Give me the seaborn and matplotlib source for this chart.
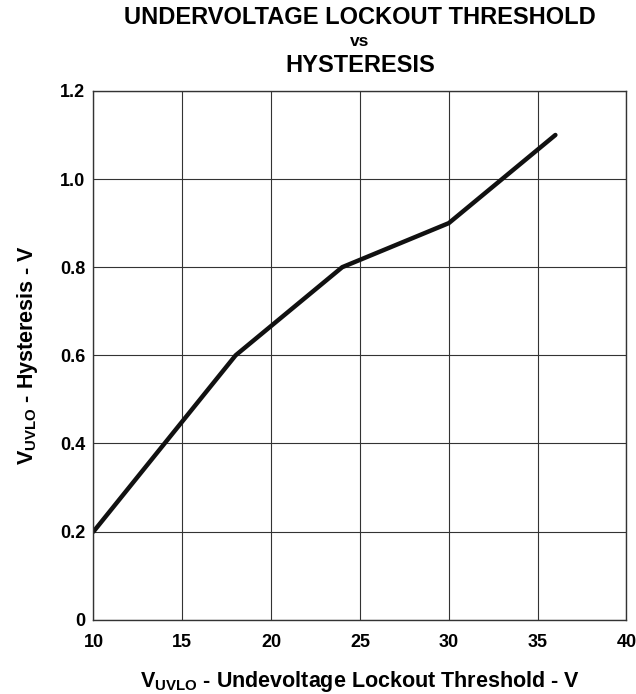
import matplotlib
matplotlib.use("Agg")
import matplotlib.pyplot as plt
import seaborn as sns
import pandas as pd

# данные
threshold = [10, 18, 24, 30, 36]
hysteresis = [0.2, 0.6, 0.8, 0.9, 1.1]
x_ticks = [10, 15, 20, 25, 30, 35, 40]
y_ticks = [0, 0.2, 0.4, 0.6, 0.8, 1.0, 1.2]
y_tick_labels = ['0', '0.2', '0.4', '0.6', '0.8', '1.0', '1.2']

sns.set_style("white")
plt.rcParams['font.family'] = ['Liberation Sans', 'DejaVu Sans']
plt.rcParams['font.weight'] = 'bold'
plt.rcParams['text.color'] = 'black'
plt.rcParams['axes.labelcolor'] = 'black'
plt.rcParams['xtick.color'] = 'black'
plt.rcParams['ytick.color'] = 'black'
plt.rcParams['mathtext.fontset'] = 'custom'
plt.rcParams['mathtext.rm'] = 'Liberation Sans:bold'
plt.rcParams['mathtext.it'] = 'Liberation Sans:bold'
plt.rcParams['mathtext.bf'] = 'Liberation Sans:bold'

df = pd.DataFrame({'threshold': threshold, 'hysteresis': hysteresis})

fig = plt.figure(figsize=(6.36, 6.94), dpi=100)
ax = fig.add_axes([0.147, 0.107, 0.838, 0.762])

sns.lineplot(data=df, x='threshold', y='hysteresis', color='#111111', linewidth=3.2, ax=ax)

ax.set_xlim(10, 40)
ax.set_ylim(0, 1.2)
ax.set_xticks(x_ticks)
ax.set_yticks(y_ticks)
ax.set_yticklabels(y_tick_labels)
ax.grid(True, color='#333333', linewidth=0.8)
for s in ax.spines.values():
    s.set_color('#333333')
    s.set_linewidth(1.0)
ax.tick_params(axis='x', length=0, labelsize=13, pad=10)
ax.tick_params(axis='y', length=0, labelsize=13, pad=6)
for lbl in ax.get_xticklabels() + ax.get_yticklabels():
    lbl.set_fontweight('bold')

ax.set_xlabel(r'V$_{\mathrm{UVLO}}$ - Undevoltage Lockout Threshold - V',
              fontsize=15.5, fontweight='bold', labelpad=13)
ax.set_ylabel(r'V$_{\mathrm{UVLO}}$ - Hysteresis - V',
              fontsize=15.5, fontweight='bold', labelpad=14)

# заголовок в три строки
fig.text(0.566, 0.975, 'UNDERVOLTAGE LOCKOUT THRESHOLD', ha='center', va='center',
         fontsize=17, fontweight='bold')
fig.text(0.566, 0.940, 'vs', ha='center', va='center', fontsize=12.5, fontweight='bold')
fig.text(0.566, 0.906, 'HYSTERESIS', ha='center', va='center', fontsize=17, fontweight='bold')

fig.savefig('out.png', dpi=100)
